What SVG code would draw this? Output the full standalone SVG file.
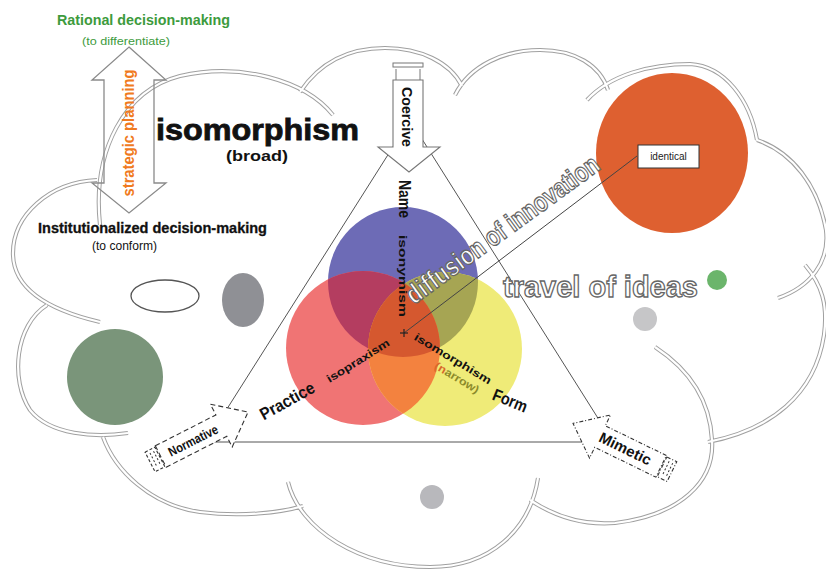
<svg xmlns="http://www.w3.org/2000/svg" width="826" height="572" viewBox="0 0 826 572">
<style>
.c1{fill:none;stroke:#a0a0a0;stroke-width:4.2}
.c2{fill:none;stroke:#fff;stroke-width:2.2}
.b{font-family:"Liberation Sans Narrow","Liberation Sans",Arial,sans-serif;font-weight:bold}
.w{font-family:"Liberation Sans",Arial,sans-serif;font-weight:bold}
.n{font-family:"Liberation Sans Narrow","Liberation Sans",Arial,sans-serif}
.hollow{fill:#fff;stroke:#666;stroke-width:1.3;font-weight:bold}
.tri{fill:none;stroke:#555;stroke-width:1}
.dash{fill:#fff;stroke:#333;stroke-width:1.1;stroke-dasharray:5,3}
.dashdot{fill:#fff;stroke:#333;stroke-width:1.1;stroke-dasharray:4,2,1,2}
</style>
<defs>
<path id="cloudp" d="M 100,225 C 92,150 125,90 180,76 C 240,62 305,80 333,115
M 300,92 C 320,62 350,48 385,48 C 420,48 450,62 462,86
M 455,95 C 470,65 505,50 540,50 C 575,50 600,65 608,90
M 587,100 C 610,75 650,64 690,64 C 725,66 750,100 757,140
M 757,140 C 792,152 818,185 826,230 C 830,262 810,287 778,298
M 805,265 C 822,285 828,305 824,335 C 815,395 770,430 708,442
M 655,347 C 690,370 710,400 712,440 C 715,482 680,515 615,523 C 590,525 560,520 530,500
M 288,482 C 300,530 360,567 430,567 C 490,567 530,530 538,478
M 103,437 C 115,470 150,505 200,512 C 240,517 280,513 303,506
M 47,305 C 15,325 10,380 30,410 C 50,435 95,438 128,433
M 97,180 C 50,182 12,215 13,255 C 14,285 40,308 100,322"/>
<clipPath id="kb"><circle cx="403" cy="282" r="75"/></clipPath>
<clipPath id="ky"><circle cx="445" cy="349" r="77"/></clipPath>
</defs>

<g id="cloud">
<use href="#cloudp" class="c1"/>
<use href="#cloudp" class="c2"/>
</g>

<g id="blobs">
<ellipse cx="165" cy="296" rx="34" ry="16" fill="none" stroke="#555" stroke-width="1.3"/>
<ellipse cx="243" cy="300" rx="21" ry="27" fill="#8f9095"/>
<circle cx="115" cy="377" r="48" fill="#7a957a"/>
<circle cx="645" cy="319" r="12" fill="#c6c6c8"/>
<circle cx="717" cy="280" r="10" fill="#6bb56b"/>
<circle cx="432" cy="497" r="12" fill="#b8b8bc"/>
</g>

<g id="identical-node">
<ellipse cx="672" cy="153" rx="76" ry="80" fill="#de6030"/>
<rect x="638" y="145" width="61" height="23" fill="#fff" stroke="#333" stroke-width="1"/>
<text class="n" x="668.5" y="160" font-size="10" text-anchor="middle" fill="#222">identical</text>
</g>

<g id="triangle">
<polygon class="tri" points="410,120 206,442 613,442"/>
</g>

<g id="venn">
<circle cx="403" cy="282" r="75" fill="#6d6bb6"/>
<circle cx="363" cy="348" r="77" fill="#f07474"/>
<circle cx="445" cy="349" r="77" fill="#efeb78"/>
<circle cx="363" cy="348" r="77" fill="#b43d60" clip-path="url(#kb)"/>
<circle cx="445" cy="349" r="77" fill="#a6a553" clip-path="url(#kb)"/>
<circle cx="363" cy="348" r="77" fill="#f3823f" clip-path="url(#ky)"/>
<g clip-path="url(#kb)"><circle cx="363" cy="348" r="77" fill="#d5582f" clip-path="url(#ky)"/></g>
<text class="w" font-size="11" text-anchor="middle" textLength="82" lengthAdjust="spacingAndGlyphs" transform="translate(399,276) rotate(90)" fill="#111">isonymism</text>
<text class="w" font-size="11" text-anchor="middle" textLength="72" lengthAdjust="spacingAndGlyphs" transform="translate(360,364) rotate(-32)" fill="#111">isopraxism</text>
<text class="w" font-size="11" text-anchor="middle" textLength="88" lengthAdjust="spacingAndGlyphs" transform="translate(451,362) rotate(31)" fill="#111">isomorphism</text>
<text class="w" font-size="11" text-anchor="middle" textLength="50" lengthAdjust="spacingAndGlyphs" transform="translate(455,381) rotate(31)"><tspan fill="#d9682a">(n</tspan><tspan fill="#8c8a2a">arrow)</tspan></text>
<text class="b" font-size="17" text-anchor="middle" textLength="60" lengthAdjust="spacingAndGlyphs" transform="translate(290,406) rotate(-29)" fill="#111">Practice</text>
<text class="b" font-size="17" text-anchor="middle" textLength="36" lengthAdjust="spacingAndGlyphs" transform="translate(508,406) rotate(22)" fill="#111">Form</text>
<text class="b" font-size="16" text-anchor="middle" textLength="38" lengthAdjust="spacingAndGlyphs" transform="translate(399,199) rotate(90)" fill="#111">Name</text>
</g>

<g id="connectors">
<line x1="404" y1="333" x2="637" y2="156" stroke="#444" stroke-width="1"/>
<line x1="400" y1="333" x2="408" y2="333" stroke="#222" stroke-width="1.2"/>
<line x1="404" y1="329" x2="404" y2="337" stroke="#222" stroke-width="1.2"/>
</g>

<g id="diffusion-label">
<text class="n hollow" font-size="27" textLength="232" lengthAdjust="spacingAndGlyphs" transform="translate(414,305) rotate(-36)">diffusion of innovation</text>
</g>

<g id="travel-label">
<text class="n hollow" x="503" y="297" font-size="30" textLength="195" lengthAdjust="spacingAndGlyphs">travel of ideas</text>
</g>

<g id="strategic-arrow">
<polygon points="129,47 166,80 154,80 154,183 166,183 129,213 92,183 104,183 104,80 92,80" fill="none" stroke="#8a8a8a" stroke-width="1.3"/>
<text class="b" font-size="16" text-anchor="middle" textLength="127" lengthAdjust="spacingAndGlyphs" transform="translate(134,133) rotate(-90)" fill="#f07a20">strategic planning</text>
</g>

<g id="rational">
<text class="b" x="57" y="25" font-size="15" textLength="173" lengthAdjust="spacingAndGlyphs" fill="#3d9b3d">Rational decision-making</text>
<text class="n" x="82" y="45" font-size="11" textLength="88" lengthAdjust="spacingAndGlyphs" fill="#3d9b3d">(to differentiate)</text>
</g>

<g id="institutionalized">
<text class="b" x="38" y="233" font-size="15" textLength="229" lengthAdjust="spacingAndGlyphs" fill="#111" stroke="#111" stroke-width="0.3">Institutionalized decision-making</text>
<text class="n" x="92" y="250" font-size="12" textLength="65" lengthAdjust="spacingAndGlyphs" fill="#111">(to conform)</text>
</g>

<g id="isomorphism-broad">
<text class="w" x="156" y="140" font-size="29" textLength="203" lengthAdjust="spacingAndGlyphs" fill="#111" stroke="#111" stroke-width="0.8">isomorphism</text>
<text class="w" x="226" y="161" font-size="15" textLength="62" lengthAdjust="spacingAndGlyphs" fill="#111">(broad)</text>
</g>

<g id="coercive">
<rect x="393" y="63" width="30" height="4" fill="#fff" stroke="#777" stroke-width="1"/>
<line x1="396" y1="69" x2="396" y2="80" stroke="#777"/>
<line x1="420" y1="69" x2="420" y2="80" stroke="#777"/>
<polygon points="393,80 423,80 423,147 440,147 409,172 378,147 393,147" fill="#fff" stroke="#777" stroke-width="1.1"/>
<text class="b" font-size="14" text-anchor="middle" textLength="60" lengthAdjust="spacingAndGlyphs" transform="translate(402,117) rotate(90)" fill="#111">Coercive</text>
</g>

<g id="normative" transform="translate(203.5,434.7) rotate(-27)">
<polygon class="dash" points="-48,-12 20,-12 20,-24 50,0 20,24 20,12 -48,12"/>
<rect class="dash" x="-60" y="-11" width="11" height="22" style="stroke-dasharray:3,2"/>
<line x1="-56" y1="-8" x2="-56" y2="8" stroke="#333" stroke-dasharray="2,2"/>
<line x1="-52" y1="-8" x2="-52" y2="8" stroke="#333" stroke-dasharray="2,2"/>
<text class="b" x="-12" y="5" font-size="13" text-anchor="middle" textLength="54" lengthAdjust="spacingAndGlyphs" fill="#111">Normative</text>
</g>

<g id="mimetic" transform="translate(618,445.3) rotate(26)">
<polygon class="dashdot" points="48,-12 -20,-12 -20,-24 -50,0 -20,24 -20,12 48,12"/>
<rect class="dashdot" x="49" y="-11" width="11" height="22"/>
<line x1="53" y1="-8" x2="53" y2="8" stroke="#333" stroke-dasharray="2,2"/>
<line x1="57" y1="-8" x2="57" y2="8" stroke="#333" stroke-dasharray="2,2"/>
<text class="b" x="8" y="5" font-size="15" text-anchor="middle" textLength="56" lengthAdjust="spacingAndGlyphs" fill="#111">Mimetic</text>
</g>
</svg>
